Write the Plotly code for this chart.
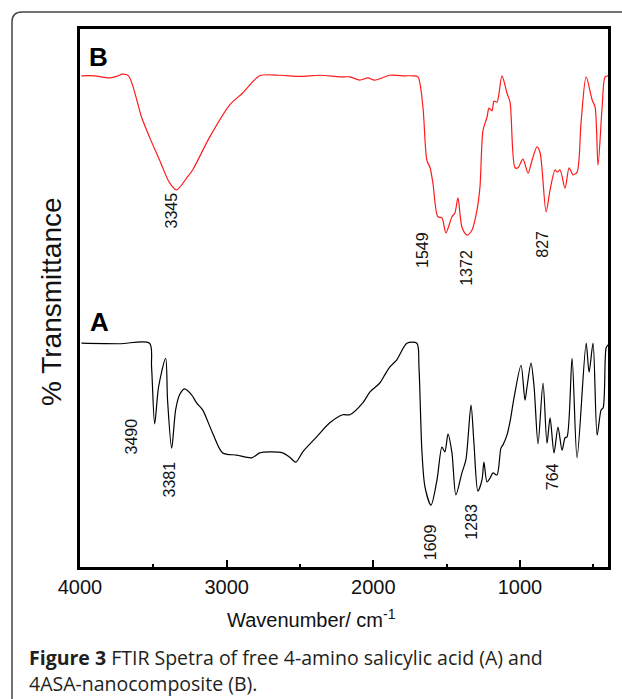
import plotly.graph_objects as go

# ---- Data: FTIR spectra (wavenumber cm^-1, transmittance a.u.) ----
wn_B = [3990, 3901, 3799, 3751, 3710, 3669, 3580, 3526, 3457, 3389, 3341, 3273, 3232, 3116,
        2979, 2891, 2775, 2638, 2502, 2365, 2229, 2160, 2092, 2038, 1990, 1887, 1785, 1730,
        1696, 1662, 1635, 1614, 1594, 1560, 1532, 1505, 1464, 1444, 1423, 1396, 1362, 1328,
        1293, 1273, 1252, 1225, 1211, 1191, 1177, 1157, 1123, 1089, 1068, 1034, 1014, 980,
        945, 918, 884, 863, 822, 795, 761, 747, 727, 693, 665, 638, 611, 584, 549, 508, 488,
        468, 440, 420, 400]
T_B = [91.3, 91.3, 90.9, 91.2, 91.6, 91.3, 83.6, 79.9, 75.6, 71.4, 70.1, 72.3, 73.8, 79.9,
       85.9, 88.1, 91.3, 91.4, 91.2, 91.4, 91.1, 91.1, 90.5, 90.9, 90.5, 91.4, 91.3, 91.3,
       91.1, 85.5, 75.6, 74.3, 71.4, 65.1, 64.9, 62.1, 65.1, 65.8, 68.6, 63.2, 61.7, 62.6,
       66.4, 70.6, 81.2, 83.6, 85.3, 84.8, 86.6, 86.4, 91.3, 88.1, 86.4, 74.2, 74.2, 75.8,
       73.2, 75.6, 78.1, 77.0, 66.0, 70.1, 73.8, 73.4, 73.8, 70.4, 74.2, 72.9, 73.4, 82.5,
       91.1, 86.8, 85.5, 74.7, 85.5, 91.1, 91.3]

wn_A = [3990, 3730, 3526, 3512, 3491, 3464, 3416, 3403, 3375, 3348, 3321, 3287, 3239, 3205,
        3164, 3096, 3027, 2932, 2829, 2775, 2706, 2618, 2570, 2529, 2481, 2386, 2297, 2208,
        2160, 2072, 2024, 1956, 1922, 1887, 1840, 1771, 1703, 1689, 1669, 1648, 1607, 1566,
        1532, 1512, 1491, 1464, 1437, 1396, 1369, 1334, 1314, 1287, 1259, 1246, 1225, 1205,
        1184, 1157, 1130, 1116, 1089, 1068, 1041, 993, 966, 952, 925, 904, 877, 843, 816,
        795, 768, 741, 713, 693, 679, 645, 611, 549, 529, 502, 474, 447, 433, 413, 400]
T_A = [41.6, 41.5, 41.6, 37.2, 26.6, 33.5, 38.8, 31.0, 22.1, 29.2, 32.0, 33.1, 32.0, 30.5,
       29.2, 24.9, 21.2, 20.8, 20.3, 21.2, 21.4, 21.2, 20.4, 19.5, 21.4, 24.2, 26.8, 28.3,
       28.3, 30.5, 32.5, 34.2, 35.7, 37.2, 38.5, 41.6, 41.6, 37.2, 21.7, 14.9, 11.5, 16.2,
       22.3, 21.4, 24.7, 21.2, 13.4, 17.5, 19.9, 30.1, 23.0, 14.1, 16.2, 19.5, 15.8, 16.5,
       17.5, 17.1, 22.1, 22.7, 24.5, 27.0, 31.4, 37.5, 31.0, 33.5, 37.9, 33.5, 22.9, 34.2,
       23.0, 27.7, 21.2, 26.0, 21.7, 24.0, 24.2, 38.8, 20.3, 41.6, 36.2, 41.6, 24.5, 29.2,
       29.6, 40.7, 41.3]

# peak labels: (text, wavenumber position, transmittance position)
peak_text = ["3345", "1549", "1372", "827", "3490", "3381", "1609", "1283", "764"]
peak_wn = [3375, 1669, 1362, 843, 3648, 3389, 1614, 1328, 781]
peak_T = [66.2, 58.9, 55.6, 59.9, 24.2, 16.2, 4.6, 8.4, 16.7]

panel_text = ["B", "A"]
panel_wn = [3874, 3867]
panel_T = [94.8, 45.5]

x_ticks = [4000, 3000, 2000, 1000]

FONT = "Liberation Sans, Arial, Helvetica, sans-serif"

fig = go.Figure()
fig.add_trace(go.Scatter(x=wn_B, y=T_B, mode="lines",
                         line=dict(color="#ff1a1a", width=1.2, shape="spline", smoothing=0.8),
                         showlegend=False, hoverinfo="skip"))
fig.add_trace(go.Scatter(x=wn_A, y=T_A, mode="lines",
                         line=dict(color="#000000", width=1.2, shape="spline", smoothing=0.8),
                         showlegend=False, hoverinfo="skip"))

annotations = []
for t, x, y in zip(peak_text, peak_wn, peak_T):
    annotations.append(dict(x=x, y=y, xref="x", yref="y", text=t, showarrow=False,
                            xanchor="center", yanchor="middle",
                            textangle=-90, font=dict(family=FONT, size=16, color="#111")))
for t, x, y in zip(panel_text, panel_wn, panel_T):
    annotations.append(dict(x=x, y=y, xref="x", yref="y", text="<b>" + t + "</b>",
                            xanchor="center", yanchor="middle",
                            showarrow=False, font=dict(family=FONT, size=26, color="#000")))

# axis titles
annotations.append(dict(x=(311 - 80) / 528, y=(567 - 618) / 538, xref="paper", yref="paper",
                        xanchor="center", yanchor="middle",
                        text="Wavenumber/ cm<sup>-1</sup>", showarrow=False,
                        font=dict(family=FONT, size=20, color="#111")))
annotations.append(dict(x=(51 - 80) / 528, y=(567 - 302) / 538, xref="paper", yref="paper",
                        xanchor="center", yanchor="middle",
                        text="% Transmittance", showarrow=False, textangle=-90,
                        font=dict(family=FONT, size=28, color="#111")))
# caption
CAP = "Open Sans, Noto Sans, sans-serif"
annotations.append(dict(x=(27 - 80) / 528, y=(567 - 657) / 538, xref="paper", yref="paper",
                        xanchor="left", yanchor="middle",
                        text="<b>Figure 3</b> FTIR Spetra of free 4-amino salicylic acid (A) and",
                        showarrow=False, font=dict(family=CAP, size=19.5, color="#231f20")))
annotations.append(dict(x=(27 - 80) / 528, y=(567 - 683) / 538, xref="paper", yref="paper",
                        xanchor="left", yanchor="middle",
                        text="4ASA-nanocomposite (B).",
                        showarrow=False, font=dict(family=CAP, size=19.5, color="#231f20")))

# outer rounded border
x0 = (12 - 80) / 528
xr = (640 - 80) / 528
yt = (567 - 12) / 538
yb = (567 - 720) / 538
rx = 10 / 528
ry = 10 / 538
path = (f"M {x0},{yb} L {x0},{yt - ry} Q {x0},{yt} {x0 + rx},{yt} L {xr},{yt}")

fig.update_layout(
    width=622, height=699,
    margin=dict(l=80, r=14, t=29, b=132),
    paper_bgcolor="white", plot_bgcolor="white",
    annotations=annotations,
    shapes=[dict(type="path", path=path, xref="paper", yref="paper",
                 line=dict(color="#444", width=1.5), layer="above")],
    xaxis=dict(range=[4000, 400], tickvals=x_ticks, ticktext=[str(v) for v in x_ticks],
               ticks="inside", ticklen=7, tickwidth=2, tickcolor="black",
               minor=dict(ticks="inside", ticklen=3, tickwidth=2, dtick=500, tick0=0,
                          tickcolor="black", showgrid=False),
               showline=True, linewidth=3, linecolor="black", mirror=True,
               showgrid=False, zeroline=False,
               tickfont=dict(family=FONT, size=20, color="#111")),
    yaxis=dict(range=[0, 100], showticklabels=False, ticks="",
               showline=True, linewidth=3, linecolor="black", mirror=True,
               showgrid=False, zeroline=False),
)

fig.write_html("out.html")
